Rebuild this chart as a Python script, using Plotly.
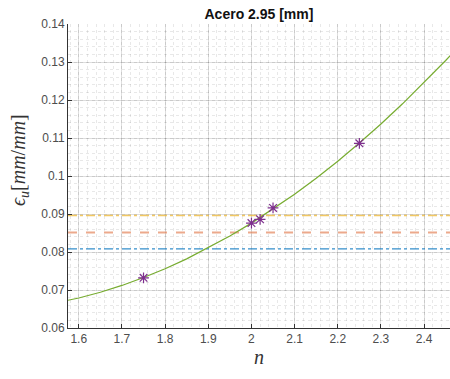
import plotly.graph_objects as go

# fitted curve
curve_n = [1.55, 1.60, 1.65, 1.70, 1.75, 1.80, 1.85, 1.90, 1.95, 2.00,
           2.05, 2.10, 2.15, 2.20, 2.25, 2.30, 2.35, 2.40, 2.45, 2.50]
curve_eps = [0.0667, 0.0679, 0.0694, 0.0712, 0.0733, 0.0756, 0.0782, 0.0811, 0.0842, 0.0876,
             0.0913, 0.0952, 0.0994, 0.1039, 0.1087, 0.1137, 0.1190, 0.1246, 0.1304, 0.1365]

# measured points
pts_n = [1.75, 2.00, 2.02, 2.05, 2.25]
pts_eps = [0.0732, 0.0876, 0.0886, 0.0916, 0.1086]

# horizontal reference levels
h_levels = [0.0896, 0.0851, 0.0808]
h_colors = ["rgba(237,177,32,0.7)", "rgba(217,83,25,0.5)", "rgba(0,114,189,0.8)"]
h_dash = ["dashdot", "dash", "dashdot"]
h_width = [1.5, 2, 1.2]

x_range = [1.575, 2.46]
y_range = [0.06, 0.14]
x_ticks = [1.6, 1.7, 1.8, 1.9, 2.0, 2.1, 2.2, 2.3, 2.4]
x_ticklabels = ["1.6", "1.7", "1.8", "1.9", "2", "2.1", "2.2", "2.3", "2.4"]
y_ticks = [0.06, 0.07, 0.08, 0.09, 0.10, 0.11, 0.12, 0.13, 0.14]
y_ticklabels = ["0.06", "0.07", "0.08", "0.09", "0.1", "0.11", "0.12", "0.13", "0.14"]

fig = go.Figure()
for lvl, c, d, w in zip(h_levels, h_colors, h_dash, h_width):
    fig.add_trace(go.Scatter(x=x_range, y=[lvl, lvl], mode="lines",
                             line=dict(color=c, dash=d, width=w), showlegend=False))
fig.add_trace(go.Scatter(x=curve_n, y=curve_eps, mode="lines",
                         line=dict(color="#77AC30", width=1.2), showlegend=False))
fig.add_trace(go.Scatter(x=pts_n, y=pts_eps, mode="markers",
                         marker=dict(symbol="asterisk-open", size=9, color="#7E2F8E",
                                     line=dict(color="#7E2F8E", width=1.2)),
                         showlegend=False))

tickfont = dict(family="Liberation Sans, Arial, sans-serif", size=12, color="#4d4d4d")
grid = "rgba(0,0,0,0.13)"
minor = dict(showgrid=True, gridcolor="rgba(0,0,0,0.09)", griddash="dot", gridwidth=1)

fig.update_xaxes(range=x_range, tickvals=x_ticks, ticktext=x_ticklabels,
                 ticks="inside", ticklen=4, tickcolor="#333", tickfont=tickfont,
                 showline=True, linecolor="#333", linewidth=1, mirror=False,
                 showgrid=True, gridcolor=grid, gridwidth=1, zeroline=False,
                 minor=dict(dtick=0.02, tick0=1.6, **minor))
fig.update_yaxes(range=y_range, tickvals=y_ticks, ticktext=y_ticklabels,
                 ticks="inside", ticklen=4, tickcolor="#333", tickfont=tickfont,
                 showline=True, linecolor="#333", linewidth=1, mirror=False,
                 showgrid=True, gridcolor=grid, gridwidth=1, zeroline=False,
                 minor=dict(dtick=0.002, tick0=0.06, **minor))

fig.update_layout(
    width=450, height=379,
    margin=dict(l=68, r=0, t=24, b=51),
    plot_bgcolor="white", paper_bgcolor="white",
    title=dict(text="<b>Acero 2.95 [mm]</b>", x=0.5755, xanchor="center",
               y=1 - 14 / 379, yanchor="middle",
               font=dict(family="Liberation Sans, Arial, sans-serif", size=14, color="#111")),
    annotations=[
        dict(text="<i>n</i>", xref="paper", yref="paper", x=0.5, y=-29 / 304,
             xanchor="center", yanchor="middle", showarrow=False,
             font=dict(family="Liberation Serif, serif", size=20, color="#333")),
        dict(text="<i>ϵ<sub>u</sub></i>[<i>mm</i>/<i>mm</i>]", xref="paper", yref="paper",
             x=-48 / 382, y=(328 - 160) / 304, xanchor="center", yanchor="middle",
             textangle=-90, showarrow=False,
             font=dict(family="Liberation Serif, serif", size=20, color="#333")),
    ],
)

fig.write_html("out.html", config={"displayModeBar": False},
               post_script="document.body.style.margin='0';document.body.style.overflow='hidden';")
